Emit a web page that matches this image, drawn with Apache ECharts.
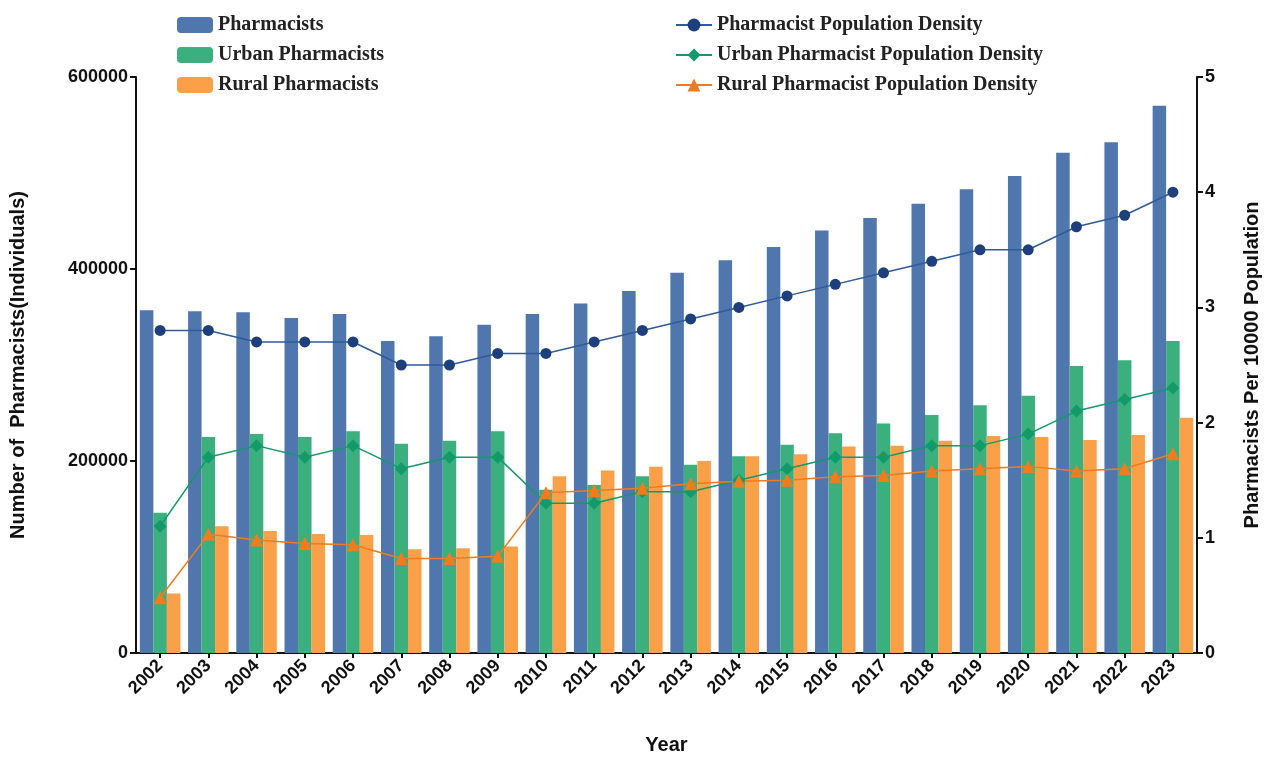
<!DOCTYPE html>
<html><head><meta charset="utf-8">
<script src="https://cdn.jsdelivr.net/npm/echarts@6/dist/echarts.min.js"></script>
<style>html,body{margin:0;background:#fff}#c{width:1280px;height:764px}</style>
</head><body><div id="c"></div>
<script>
var years = ['2002','2003','2004','2005','2006','2007','2008','2009','2010','2011','2012','2013','2014','2015','2016','2017','2018','2019','2020','2021','2022','2023'];
var pharmacists = [357000,356000,355000,349000,353000,325000,330000,342000,353000,364000,377000,396000,409000,423000,440000,453000,468000,483000,497000,521000,532000,570000];
var urbanPharm = [146000,225000,228000,225000,231000,218000,221000,231000,170000,175000,184000,196000,205000,217000,229000,239000,248000,258000,268000,299000,305000,325000];
var ruralPharm = [62000,132000,127000,124000,123000,108000,109000,111000,184000,190000,194000,200000,205000,207000,215000,216000,221000,226000,225000,222000,227000,245000];
var density = [2.8,2.8,2.7,2.7,2.7,2.5,2.5,2.6,2.6,2.7,2.8,2.9,3.0,3.1,3.2,3.3,3.4,3.5,3.5,3.7,3.8,4.0];
var urbanDensity = [1.1,1.7,1.8,1.7,1.8,1.6,1.7,1.7,1.3,1.3,1.4,1.4,1.5,1.6,1.7,1.7,1.8,1.8,1.9,2.1,2.2,2.3];
var ruralDensity = [0.48,1.03,0.98,0.95,0.94,0.82,0.82,0.84,1.39,1.41,1.43,1.47,1.49,1.5,1.53,1.54,1.58,1.6,1.62,1.58,1.6,1.73];

var chart = echarts.init(document.getElementById('c'));
var legendText = {fontFamily: 'Liberation Serif', fontWeight: 'bold', fontSize: 20, color: '#222'};
var axisLabel = {fontFamily: 'Liberation Sans', fontWeight: 'bold', fontSize: 18, color: '#111'};
var axisLine = {show: true, lineStyle: {color: '#111', width: 2}};
chart.setOption({
    animation: false,
    grid: {left: 134, right: 83, top: 77, bottom: 111},
    legend: [
        {left: 172, top: 10, orient: 'vertical', itemGap: 10, itemWidth: 36, itemHeight: 16,
         textStyle: legendText, data: ['Pharmacists', 'Urban Pharmacists', 'Rural Pharmacists']},
        {left: 670, top: 10, orient: 'vertical', itemGap: 10, itemWidth: 36, itemHeight: 16,
         textStyle: legendText, data: ['Pharmacist Population Density', 'Urban Pharmacist Population Density', 'Rural Pharmacist Population Density']}
    ],
    xAxis: {
        type: 'category', data: years, name: 'Year', nameLocation: 'middle', nameGap: 82,
        nameTextStyle: {fontFamily: 'Liberation Sans', fontWeight: 'bold', fontSize: 20, color: '#111'},
        axisLine: axisLine, axisTick: {show: true, alignWithLabel: true, lineStyle: {color: '#111', width: 2}},
        axisLabel: Object.assign({rotate: 45, interval: 0, margin: 10}, axisLabel)
    },
    yAxis: [
        {type: 'value', min: 0, max: 600000, interval: 200000, name: 'Number of  Pharmacists(Individuals)',
         nameLocation: 'middle', nameGap: 108,
         nameTextStyle: {fontFamily: 'Liberation Sans', fontWeight: 'bold', fontSize: 20, color: '#111'},
         axisLine: axisLine, axisTick: {show: true, length: 6, lineStyle: {color: '#111', width: 2}},
         splitLine: {show: false}, axisLabel: Object.assign({formatter: function (v) { return String(v); }}, axisLabel)},
        {type: 'value', min: 0, max: 5, interval: 1, name: 'Pharmacists Per 10000 Population',
         nameLocation: 'middle', nameGap: 45, nameRotate: 90,
         nameTextStyle: {fontFamily: 'Liberation Sans', fontWeight: 'bold', fontSize: 20, color: '#111'},
         axisLine: axisLine, axisTick: {show: true, length: 6, lineStyle: {color: '#111', width: 2}},
         splitLine: {show: false}, axisLabel: axisLabel}
    ],
    series: [
        {name: 'Pharmacists', type: 'bar', data: pharmacists, barGap: '0%', barCategoryGap: '16%', itemStyle: {color: '#4f76ad'}},
        {name: 'Urban Pharmacists', type: 'bar', data: urbanPharm, itemStyle: {color: '#3bb07e'}},
        {name: 'Rural Pharmacists', type: 'bar', data: ruralPharm, itemStyle: {color: '#f9a049'}},
        {name: 'Pharmacist Population Density', type: 'line', yAxisIndex: 1, data: density,
         symbol: 'circle', symbolSize: 11, itemStyle: {color: '#1d3f7c'}, lineStyle: {width: 1.5, color: '#2f5b9a'}},
        {name: 'Urban Pharmacist Population Density', type: 'line', yAxisIndex: 1, data: urbanDensity,
         symbol: 'diamond', symbolSize: 13, itemStyle: {color: '#139a6a'}, lineStyle: {width: 1.5, color: '#139a6a'}},
        {name: 'Rural Pharmacist Population Density', type: 'line', yAxisIndex: 1, data: ruralDensity,
         symbol: 'triangle', symbolSize: 13, itemStyle: {color: '#f57a1c'}, lineStyle: {width: 1.5, color: '#f57a1c'}}
    ]
});
</script>
</body></html>
